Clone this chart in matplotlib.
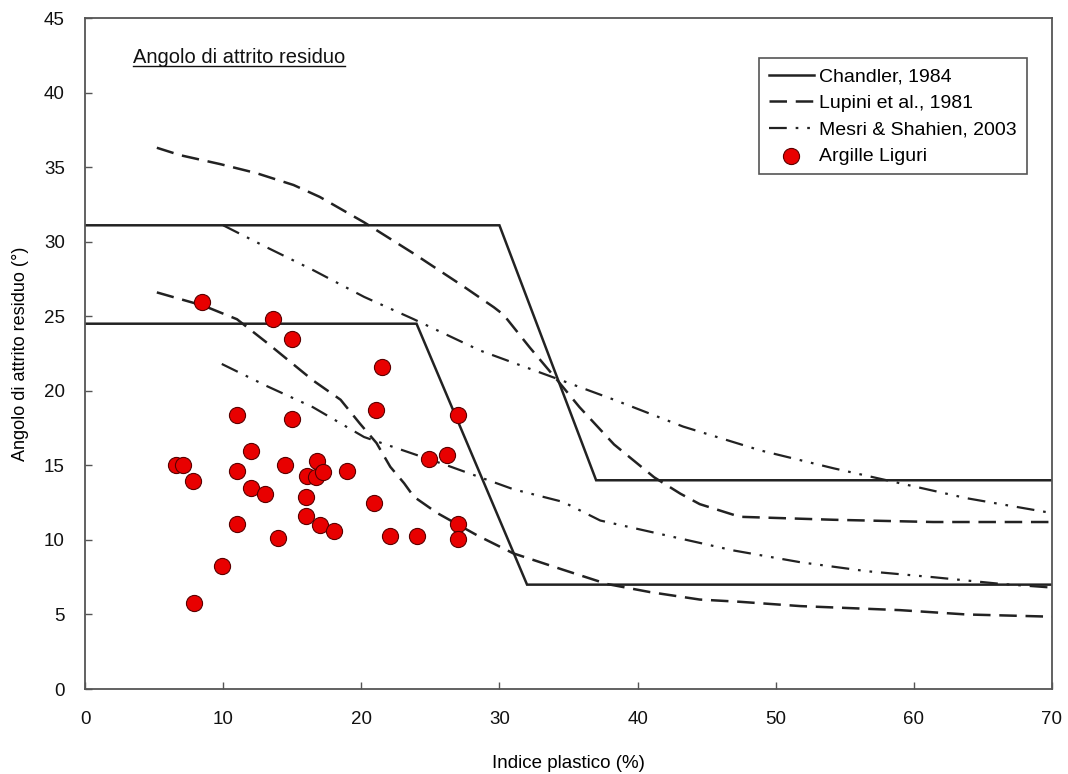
import matplotlib
matplotlib.use("Agg")
import matplotlib.pyplot as plt
from matplotlib.lines import Line2D

plt.rcParams['font.family'] = ['Liberation Sans', 'DejaVu Sans']

# Chandler, 1984 (two bounds)
chandler_up_x = [0, 30, 37, 70]
chandler_up_y = [31.1, 31.1, 14.0, 14.0]
chandler_lo_x = [0, 24, 32, 70]
chandler_lo_y = [24.5, 24.5, 7.0, 7.0]

# Lupini et al., 1981 (two bounds)
lupini_up_x = [5.2, 6.9, 9.8, 12.4, 15.1, 17.0, 20.2, 23.8, 27.4, 29.6, 30.3, 32.2, 34.2, 35.8, 38.3, 41.2, 43.1, 44.5, 47.4, 54.2, 61.4, 70]
lupini_up_y = [36.3, 35.8, 35.2, 34.6, 33.8, 33.0, 31.3, 29.2, 27.0, 25.6, 25.1, 22.9, 20.7, 18.9, 16.4, 14.2, 13.1, 12.4, 11.55, 11.35, 11.2, 11.2]
lupini_lo_x = [5.2, 8.6, 11.0, 13.2, 16.5, 18.5, 19.9, 21.1, 22.1, 23.1, 23.8, 25.5, 28.4, 31.0, 34.6, 37.8, 40.9, 44.5, 47.4, 51.8, 59.0, 63.8, 70]
lupini_lo_y = [26.6, 25.7, 24.8, 23.2, 20.7, 19.4, 17.8, 16.5, 14.9, 13.8, 12.9, 11.8, 10.3, 9.1, 8.0, 7.04, 6.5, 6.0, 5.85, 5.56, 5.29, 5.0, 4.85]

# Mesri & Shahien, 2003 (two bounds)
mesri_up_x = [10.0, 13.2, 16.5, 20.2, 23.8, 28.6, 34.2, 38.3, 43.3, 48.9, 54.2, 59.0, 63.8, 70]
mesri_up_y = [31.1, 29.6, 28.1, 26.3, 24.8, 22.7, 20.8, 19.4, 17.6, 16.0, 14.8, 13.8, 12.8, 11.8]
mesri_lo_x = [9.9, 13.2, 16.5, 20.2, 26.2, 31.0, 34.6, 37.3, 42.1, 46.9, 51.8, 56.6, 61.4, 66.3, 70]
mesri_lo_y = [21.8, 20.3, 18.9, 16.9, 15.0, 13.4, 12.55, 11.3, 10.3, 9.3, 8.5, 7.9, 7.5, 7.05, 6.8]

# Argille Liguri
argille_x = [8.5, 13.6, 15.0, 21.5, 21.1, 11.0, 15.0, 12.0, 6.6, 7.1, 14.5, 16.8, 7.8, 11.0,
             16.1, 16.7, 17.2, 19.0, 12.0, 13.0, 16.0, 20.9, 11.0, 16.0, 17.0, 18.0, 22.1,
             14.0, 9.9, 7.9, 27.0, 24.9, 26.2, 24.0, 27.0, 27.0]
argille_y = [25.95, 24.8, 23.5, 21.6, 18.7, 18.4, 18.1, 15.95, 15.0, 15.0, 15.0, 15.3, 13.95, 14.6,
             14.3, 14.2, 14.55, 14.6, 13.5, 13.1, 12.9, 12.45, 11.1, 11.6, 11.0, 10.6, 10.25,
             10.1, 8.25, 5.8, 18.4, 15.45, 15.7, 10.25, 11.05, 10.05]

x_ticks = [0, 10, 20, 30, 40, 50, 60, 70]
y_ticks = [0, 5, 10, 15, 20, 25, 30, 35, 40, 45]

fig = plt.figure(figsize=(10.68, 7.74), dpi=100)
ax = fig.add_axes([0.0796, 0.1098, 0.9054, 0.8669])

lc = '#222222'
ax.plot(chandler_up_x, chandler_up_y, color=lc, lw=1.8, solid_joinstyle='miter', label='Chandler, 1984')
ax.plot(chandler_lo_x, chandler_lo_y, color=lc, lw=1.8, solid_joinstyle='miter')
dash = (0, (7, 3.5))
ax.plot(lupini_up_x, lupini_up_y, color=lc, lw=1.8, linestyle=dash, label='Lupini et al., 1981')
ax.plot(lupini_lo_x, lupini_lo_y, color=lc, lw=1.8, linestyle=dash)
ddot = (0, (8, 4, 1.2, 4, 1.2, 4))
ax.plot(mesri_up_x, mesri_up_y, color=lc, lw=1.6, linestyle=ddot, label='Mesri & Shahien, 2003')
ax.plot(mesri_lo_x, mesri_lo_y, color=lc, lw=1.6, linestyle=ddot)
ax.scatter(argille_x, argille_y, s=135, c='#e80000', edgecolors='#5a0000', linewidths=0.8,
           zorder=5, label='Argille Liguri')

ax.set_xlim(0, 70)
ax.set_ylim(0, 45)
ax.set_xticks(x_ticks)
ax.set_yticks(y_ticks)
ax.tick_params(direction='in', length=5, width=1, color='#555555', labelsize=13.5, labelcolor='#111111')
ax.tick_params(axis='x', pad=16)
ax.tick_params(axis='y', pad=14.5)
for s in ax.spines.values():
    s.set_color('#555555')
    s.set_linewidth(1.3)

ax.set_xlabel('Indice plastico (%)', fontsize=13.5, labelpad=19)
ax.set_ylabel('Angolo di attrito residuo (°)', fontsize=13, labelpad=10.5)

leg = ax.legend(loc='upper right', bbox_to_anchor=(0.974, 0.940), fontsize=14, frameon=True,
                fancybox=False, edgecolor='#555555', framealpha=1, handlelength=2.3,
                borderpad=0.5, labelspacing=0.45, handletextpad=0.3, borderaxespad=0)
leg.get_frame().set_linewidth(1.2)

t = ax.text(0.0495, 0.941, 'Angolo di attrito residuo', transform=ax.transAxes, fontsize=14.5,
            ha='left', va='center', color='#111111')
fig.canvas.draw()
bb = t.get_window_extent().transformed(ax.transAxes.inverted())
ax.add_line(Line2D([bb.x0, bb.x1], [bb.y0 + 0.002, bb.y0 + 0.002], transform=ax.transAxes,
                   color='#111111', lw=1.0))

fig.savefig('out.png', dpi=100)
